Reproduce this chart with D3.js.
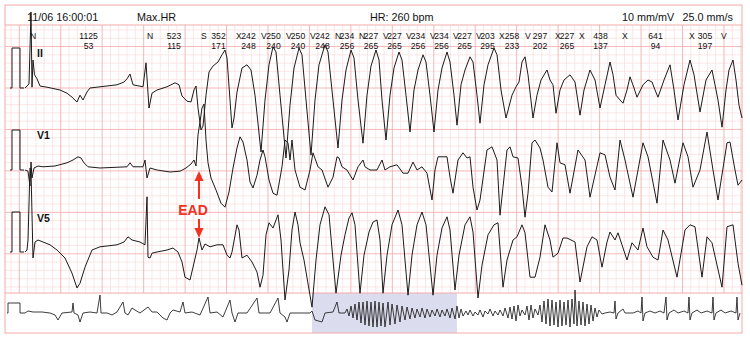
<!DOCTYPE html>
<html><head><meta charset="utf-8">
<script src="https://cdn.jsdelivr.net/npm/d3@7"></script>
<style>html,body{margin:0;padding:0;background:#fff;}svg{display:block;font-family:"Liberation Sans",Arial,Helvetica,sans-serif;}</style>
</head><body><svg id="c" width="750" height="339"></svg>
<script>
// ---------- DATA ----------
const headerLeft = "11/06 16:00:01";
const headerMode = "Max.HR";
const headerHR = "HR: 260 bpm";
const headerGain = "10 mm/mV";
const headerSpeed = "25.0 mm/s";
const leadNames = ["II", "V1", "V5"];
// beat times (s) and labels
const beatTimes = [0.05,1.22,1.76,2.11,2.36,2.61,2.85,3.10,3.34,3.58,3.81,4.05,4.28,4.51,4.74,5.00,5.30,5.54,5.97,6.64,6.96];
const beatTypes = ["N","N","S","X","V","V","V","N","N","V","V","V","V","V","X","V","X","X","X","X","V"];
const rrIntervals = ["1125","523","352","242","250","250","242","234","227","227","234","234","227","203","258","297","227","438","641","305"];
const heartRates = ["53","115","171","248","240","240","248","256","265","265","256","256","265","295","233","202","265","137","94","197"];
const eadTime = 1.74;
const calibration = [[-0.15,0],[-0.13,0],[-0.13,1],[-0.05,1],[-0.05,0],[-0.01,0]];
const stripCalibration = [[-0.9,0],[-0.85,0],[-0.85,1],[-0.25,1],[-0.25,0],[0,0]];
const highlightWindow = [14.35, 21.6];
// lead traces: [time s, amplitude mV]
const leadII = [[0,0],[0.02,0.05],[0.04,0.10],[0.06,1.90],[0.07,0.02],[0.08,0.70],[0.095,0.33],[0.12,0.23],[0.15,0.05],[0.22,0.02],[0.35,-0.05],[0.42,-0.13],[0.47,-0.23],[0.52,-0.35],[0.55,-0.18],[0.58,-0.30],[0.62,-0.10],[0.65,0],[0.75,0.03],[0.92,0.08],[0.99,0.15],[1.02,0.23],[1.05,0.35],[1.08,0.08],[1.18,0.03],[1.21,0.63],[1.24,-0.50],[1.27,-0.13],[1.32,-0.05],[1.42,0.03],[1.50,0.13],[1.54,0.08],[1.57,-0.20],[1.62,-0.33],[1.66,-0.35],[1.69,-0.05],[1.71,0.05],[1.73,-0.50],[1.76,-1.05],[1.78,-0.95],[1.81,-0.18],[1.84,0.40],[1.88,0.55],[1.93,0.65],[1.97,0.83],[2.00,0.95],[2.02,0.75],[2.07,-1.00],[2.09,-0.75],[2.12,-0.10],[2.17,0.50],[2.22,0.58],[2.26,0.45],[2.30,-0.18],
[2.36,-1.60],[2.40,-0.30],[2.44,0.58],[2.48,1.03],[2.51,0.90],[2.55,-0.18],[2.61,-1.75],[2.65,-0.43],[2.69,0.50],[2.74,1.00],[2.77,0.83],[2.81,-0.30],[2.86,-1.68],[2.90,-0.30],[2.94,0.58],[3.00,1.08],[3.03,0.90],[3.08,-0.30],[3.13,-1.50],[3.17,-0.30],[3.21,0.45],[3.26,0.95],[3.29,0.75],[3.33,-0.30],[3.38,-1.38],[3.42,-0.18],[3.46,0.55],[3.51,0.95],[3.54,0.70],[3.57,-0.30],[3.61,-1.30],[3.65,-0.18],[3.69,0.50],[3.74,0.90],[3.77,0.70],[3.81,-0.18],[3.85,-1.10],[3.89,-0.05],[3.93,0.45],[3.98,0.83],[4.01,0.65],[4.05,-0.18],[4.09,-1.10],[4.13,-0.05],[4.17,0.50],[4.22,0.90],[4.25,0.65],[4.29,-0.18],[4.32,-0.93],[4.36,0.08],[4.40,0.45],[4.45,0.78],[4.48,0.65],[4.52,-0.18],[4.55,-0.88],[4.59,0.08],[4.63,0.58],[4.69,1.00],[4.72,0.83],[4.76,-0.05],[4.81,-0.75],[4.87,-0.18],[4.91,0.03],[4.94,0.15],[4.97,0.65],[5.00,0.78],[5.03,0.33],[5.08,-0.75],[5.12,-0.18],[5.16,0.20],[5.22,0.45],[5.25,0.20],[5.28,0.08],[5.31,-0.63],[5.35,-0.05],[5.39,0.20],[5.45,0.33],[5.50,0.15],[5.55,-0.68],[5.59,-0.05],[5.65,0.45],[5.70,0.20],[5.75,-0.50],[5.80,0.08],[5.85,0.65],[5.88,0.33],[5.91,-0.18],[5.95,-0.30],[5.98,-0.38],[6.02,-0.05],[6.05,0.28],[6.09,0],[6.12,-0.23],[6.18,0.08],[6.23,0.20],[6.27,0.15],[6.30,-0.05],[6.33,-0.23],[6.39,0.20],[6.45,0.58],[6.49,-0.05],[6.53,-0.80],[6.59,0.08],[6.65,0.70],[6.69,0.33],[6.75,-0.60],[6.81,0.20],[6.87,0.45],[6.90,0.08],[6.93,-0.30],[6.97,-0.98],[7.01,-0.05],[7.04,0.45],[7.08,0.70],[7.11,0.20],[7.14,-0.43],[7.17,-0.75]];
const leadV1 = [[0,0],[0.03,-0.03],[0.05,-0.40],[0.06,0.20],[0.07,-0.20],[0.09,0.05],[0.13,0.10],[0.18,0.08],[0.30,0.10],[0.42,0.18],[0.48,0.25],[0.53,0.33],[0.56,0.30],[0.59,0.18],[0.63,0.08],[0.75,0.05],[1.02,0.08],[1.05,0.18],[1.08,0.08],[1.18,0.08],[1.20,0.25],[1.22,-0.20],[1.25,0.05],[1.32,0],[1.45,-0.05],[1.55,-0.03],[1.61,0.05],[1.66,0.15],[1.69,0.25],[1.71,0.10],[1.73,0.88],[1.75,1.20],[1.77,1.55],[1.79,1.65],[1.81,0.75],[1.83,0.18],[1.86,-0.20],[1.91,-0.50],[1.96,-0.83],[2.00,-0.93],[2.04,-0.55],[2.08,0.05],[2.12,0.55],[2.15,0.83],[2.18,0.70],[2.22,0.25],[2.25,-0.30],[2.28,-0.45],[2.32,-0.13],[2.35,0.25],[2.38,0.50],[2.40,0.33],[2.44,-0.25],[2.48,-0.58],[2.52,-0.63],[2.57,0.08],[2.60,0.75],[2.63,0.68],[2.65,0.25],[2.67,0.75],[2.70,0],[2.75,-0.43],[2.80,-0.50],[2.85,0],[2.88,0.43],[2.93,0.08],[2.97,0],[3.03,-0.43],[3.08,-0.18],[3.12,0.33],[3.14,0.30],[3.17,0.08],[3.22,0],[3.28,-0.25],[3.33,0.08],[3.38,0.25],[3.40,0.08],[3.45,0],[3.52,0],[3.57,0.25],[3.60,0],[3.65,0.08],[3.72,0.13],[3.78,-0.08],[3.83,-0.08],[3.88,0.20],[3.92,0],[3.97,0.08],[4.02,-0.08],[4.07,-0.75],[4.10,0],[4.13,0.33],[4.22,0.33],[4.25,-0.18],[4.28,-0.58],[4.33,0.25],[4.38,0.43],[4.42,0.30],[4.45,0.33],[4.48,-0.43],[4.52,-1.00],[4.55,-0.75],[4.62,0.50],[4.67,0.58],[4.72,0.25],[4.75,-1.13],[4.78,-0.43],[4.82,0.50],[4.85,0.58],[4.88,0.33],[4.93,0.30],[4.97,-0.43],[5.00,-1.18],[5.03,-0.58],[5.07,0.68],[5.10,0.75],[5.15,0.55],[5.18,0.25],[5.23,-0.43],[5.27,-0.55],[5.32,0.68],[5.35,0.18],[5.40,0.13],[5.45,-0.58],[5.53,0.50],[5.60,0.25],[5.65,-0.68],[5.75,0.43],[5.80,0.38],[5.85,-0.18],[5.90,-0.50],[5.95,0.75],[6.00,0.25],[6.08,-0.68],[6.18,0.68],[6.23,0.33],[6.32,-0.83],[6.38,0.75],[6.45,0.25],[6.50,-0.33],[6.58,0.68],[6.63,0.33],[6.68,-0.43],[6.75,0],[6.82,0.95],[6.88,0],[6.93,-0.75],[7.02,0.68],[7.05,0.70],[7.10,0],[7.13,-0.38],[7.17,-0.25]];
const leadV5 = [[0,0],[0.02,0.05],[0.03,0.30],[0.05,2.10],[0.06,2.05],[0.08,-0.15],[0.10,0.25],[0.13,0.30],[0.18,0.25],[0.25,0.18],[0.32,0.05],[0.40,-0.15],[0.47,-0.53],[0.52,-0.90],[0.55,-0.78],[0.60,-0.38],[0.67,0.05],[0.75,0.13],[0.92,0.18],[0.99,0.25],[1.03,0.38],[1.07,0.30],[1.15,0.25],[1.20,0.18],[1.22,1.38],[1.23,-0.13],[1.25,-0.15],[1.27,-0.03],[1.32,0],[1.42,0.05],[1.48,0.10],[1.53,0],[1.57,-0.25],[1.60,-0.63],[1.65,-0.70],[1.68,-0.38],[1.72,0.05],[1.74,0.35],[1.77,0.05],[1.80,0.20],[1.85,0.13],[1.92,0.18],[1.98,0.18],[2.02,-0.08],[2.05,-0.15],[2.07,0],[2.12,0.68],[2.14,0.55],[2.17,-0.15],[2.22,-0.08],[2.27,-0.25],[2.32,-0.50],[2.35,-0.88],[2.38,-0.58],[2.41,0.43],[2.44,0.73],[2.48,0.60],[2.53,0.93],[2.56,0.30],[2.60,-1.20],[2.64,-0.45],[2.67,0.55],[2.70,1.00],[2.73,0.68],[2.75,0.23],[2.79,-0.20],[2.87,-1.38],[2.91,-0.20],[2.95,0.68],[3.00,1.13],[3.04,0.93],[3.08,-0.20],[3.11,-1.03],[3.16,-0.08],[3.20,0.43],[3.24,0.85],[3.27,0.98],[3.30,0.68],[3.35,-1.03],[3.39,-0.08],[3.44,0.50],[3.48,0.75],[3.52,0.80],[3.55,0.30],[3.58,-1.03],[3.62,-0.08],[3.67,0.68],[3.73,1.05],[3.77,0.68],[3.83,-1.08],[3.87,-0.08],[3.92,0.68],[3.97,1.00],[4.01,0.68],[4.08,-1.08],[4.12,-0.08],[4.17,0.60],[4.22,0.88],[4.25,0.55],[4.30,-0.95],[4.34,-0.08],[4.40,0.68],[4.45,0.88],[4.48,0.50],[4.53,-1.15],[4.57,-0.33],[4.63,0.43],[4.69,0.68],[4.73,0.73],[4.78,-0.88],[4.82,-0.20],[4.88,0.30],[4.92,0.38],[4.97,0.68],[5.00,0.48],[5.05,-0.63],[5.10,-0.63],[5.15,-0.13],[5.20,0.68],[5.25,0.30],[5.28,-0.13],[5.33,-0.03],[5.38,0.35],[5.42,0.35],[5.50,0.25],[5.55,-0.75],[5.62,0.13],[5.67,0.38],[5.72,0.30],[5.77,-0.38],[5.82,0.25],[5.85,0.50],[5.90,0.30],[5.93,0.48],[6.02,-0.20],[6.07,0.23],[6.13,0.05],[6.18,0.60],[6.22,0.13],[6.28,-0.13],[6.33,-0.20],[6.38,0.55],[6.43,0.30],[6.52,-0.63],[6.60,0.55],[6.65,0.68],[6.70,0.63],[6.77,-0.63],[6.82,0.38],[6.87,0.23],[6.97,-0.88],[7.02,0.63],[7.08,0.68],[7.13,-0.28],[7.17,-0.83]];
// rhythm overview strip: [time s, amplitude mV]
const stripTrace = [[0,0],[0.15,0.2],[0.4,0.1],[0.85,0.1],[1.25,0],[1.5,-0.2],[1.65,-0.7],[1.85,0],[2.35,0.1],[2.4,1.0],[2.45,0],[2.65,-0.2],[2.75,-0.9],[2.9,0],[3.25,0.1],[3.6,0],[3.75,1.8],[3.8,0],[4.1,0],[4.35,-0.2],[4.6,0.1],[4.9,1.1],[5.0,0],[5.15,-0.2],[5.35,0.5],[5.5,0.3],[5.75,0],[6.15,0.6],[6.35,0.1],[6.6,0.1],[6.9,-0.5],[7.1,-0.7],[7.25,0],[7.4,0.3],[7.75,0.1],[7.9,1.1],[8.0,0],[8.35,0.1],[8.75,-0.2],[9.15,1.6],[9.25,0],[9.6,0.1],[9.9,-0.4],[10.25,1.3],[10.35,0],[10.5,-0.9],[10.65,0],[11.1,0],[11.6,1.5],[11.7,0],[11.9,0],[12.25,0],[12.65,1.5],[12.75,0],[13.0,-0.4],[13.1,-0.9],[13.25,0],[13.75,0],[14.25,0],[14.35,0.2],[14.5,-0.7],[14.85,-0.9],[15.0,0],[15.4,0.1],[15.6,1.1],[15.7,0],[15.95,0],
[16.0,0],[16.1,0.4],[16.2,-0.3],[16.3,0.7],[16.4,-0.5],[16.5,0.9],[16.6,-0.7],[16.7,1.1],[16.8,-1.0],[16.9,1.1],[17.0,-1.2],[17.1,1.2],[17.2,-1.3],[17.3,1.1],[17.4,-1.4],[17.5,1.2],[17.6,-1.4],[17.7,1.1],[17.8,-1.3],[17.9,1.0],[18.0,-1.4],[18.15,1.1],[18.25,-1.2],[18.35,0.9],[18.5,-1.1],[18.6,0.8],[18.75,-0.9],[18.85,0.7],[19.0,-0.7],[19.1,0.6],
[19.25,-0.6],[19.35,0.5],[19.5,-0.5],[19.6,0.4],[19.75,-0.4],[19.85,0.5],[20.0,-0.5],[20.1,0.4],[20.25,-0.4],[20.35,0.3],[20.5,-0.3],[20.6,0.4],[20.75,-0.4],[20.85,0.3],[21.0,-0.3],[21.1,0.4],[21.25,-0.5],[21.35,0.5],[21.5,-0.6],[21.6,0.7],
[21.7,-0.5],[21.8,0.4],[21.9,-0.3],[22.05,0.2],[22.15,-0.2],[22.25,0.3],[22.4,-0.3],[22.5,0.1],[22.65,-0.2],[22.75,0.3],[22.9,-0.4],[23.0,0.2],[23.15,-0.1],[23.25,0.4],[23.4,-0.3],[23.5,0.2],[23.65,-0.2],[23.75,0.3],[23.9,-0.3],[24.0,0.5],[24.15,-0.5],[24.25,0.6],[24.35,-0.6],[24.45,0.7],[24.55,-0.8],[24.65,0.8],[24.75,-0.3],[24.85,0.3],[25.0,-0.2],[25.1,0.7],[25.2,-0.7],[25.3,0.8],[25.4,-0.5],[25.5,0.4],[25.65,-0.2],[25.75,0.8],
[25.85,-0.9],[25.95,1.2],[26.05,-1.1],[26.15,1.4],[26.25,-1.3],[26.35,1.3],[26.45,-1.2],[26.55,1.1],[26.65,-1.4],[26.75,1.3],[26.85,-1.3],[26.95,1.1],[27.05,-1.2],[27.15,1.3],[27.25,-1.4],[27.35,1.4],[27.45,-1.1],[27.5,2.3],[27.6,-1.3],[27.7,1.2],[27.8,-1.2],[27.9,1.1],[28.0,-1.3],[28.1,0.9],[28.2,-1.1],[28.3,0.8],[28.4,-0.8],[28.5,0.5],[28.6,-0.4],[28.7,0.3],[28.85,-0.1],[29.0,0],
[29.25,0.1],[29.45,0],[29.5,1.2],[29.55,-0.6],[29.65,0],[29.9,0.4],[30.0,0],[30.4,0],[30.65,0.2],[30.8,0],[30.85,1.6],[30.9,-0.8],[31.0,0],[31.25,0.2],[31.5,0],[31.75,0.2],[31.95,0],[32.05,1.6],[32.1,-0.7],[32.2,0],[32.45,0.3],[32.65,0],[32.95,0.2],[33.15,0],[33.2,1.6],[33.25,-0.7],[33.35,0],[33.6,0.3],[33.8,0],[34.1,0.2],[34.35,0],[34.4,1.6],[34.45,-0.7],[34.55,0],[34.8,0.3],[35.0,0],[35.3,0.2],[35.55,0],[35.6,1.6],[35.65,-0.7],[35.75,0]];

// ---------- LAYOUT ----------
const W = 750, H = 339;
const frame = {x0: 5, x1: 742, y0: 5, y1: 333, head: 25, strip: 293};
const svg = d3.select("#c");
svg.append("rect").attr("width", W).attr("height", H).attr("fill", "#fff");

// grid
const minorStep = 8.29, xPhase = 19.3, yPhase = 88;
const grid = svg.append("g");
const kx0 = Math.ceil((frame.x0 - xPhase) / minorStep), kx1 = Math.floor((frame.x1 - xPhase) / minorStep);
const ky0 = Math.ceil((frame.head - yPhase) / minorStep), ky1 = Math.floor((frame.strip - yPhase) / minorStep);
const minorLines = [], majorLines = [];
for (let k = kx0; k <= kx1; k++) {
  const xx = xPhase + k * minorStep;
  (((k % 5) + 5) % 5 === 0 ? majorLines : minorLines).push({x1: xx, x2: xx, y1: frame.head, y2: frame.strip});
}
for (let k = ky0; k <= ky1; k++) {
  const yy = yPhase + k * minorStep;
  (((k % 5) + 5) % 5 === 0 ? majorLines : minorLines).push({x1: frame.x0, x2: frame.x1, y1: yy, y2: yy});
}
grid.selectAll(".mn").data(minorLines).join("line").attr("class","mn")
  .attr("x1", d => d.x1).attr("x2", d => d.x2).attr("y1", d => d.y1).attr("y2", d => d.y2)
  .attr("stroke", "#fbdcdc").attr("stroke-width", 0.7);
grid.selectAll(".mj").data(majorLines).join("line").attr("class","mj")
  .attr("x1", d => d.x1).attr("x2", d => d.x2).attr("y1", d => d.y1).attr("y2", d => d.y2)
  .attr("stroke", "#f5b0b0").attr("stroke-width", 0.9);

// strip background & highlight
const xs = d3.scaleLinear().domain([0, 35.85]).range([25, 742]);
const ys = d3.scaleLinear().domain([-1, 1]).range([323, 303]);
svg.append("rect").attr("x", frame.x0).attr("y", frame.strip).attr("width", frame.x1 - frame.x0).attr("height", frame.y1 - frame.strip).attr("fill", "#fff");
svg.append("rect").attr("x", xs(highlightWindow[0])).attr("y", frame.strip)
  .attr("width", xs(highlightWindow[1]) - xs(highlightWindow[0])).attr("height", frame.y1 - frame.strip)
  .attr("fill", "#dcdcef");

// frame
const fr = svg.append("g").attr("stroke", "#f3aaaa").attr("stroke-width", 1).attr("fill", "none");
fr.append("rect").attr("x", frame.x0).attr("y", frame.y0).attr("width", frame.x1 - frame.x0).attr("height", frame.y1 - frame.y0);
fr.append("line").attr("x1", frame.x0).attr("x2", frame.x1).attr("y1", frame.head).attr("y2", frame.head);
fr.append("line").attr("x1", frame.x0).attr("x2", frame.x1).attr("y1", frame.strip).attr("y2", frame.strip);

// header text
const hdr = svg.append("g").attr("fill", "#111").attr("font-size", 10.8);
hdr.append("text").attr("x", 27).attr("y", 20.5).text(headerLeft);
hdr.append("text").attr("x", 137).attr("y", 20.5).text(headerMode);
hdr.append("text").attr("x", 370).attr("y", 20.5).text(headerHR);
hdr.append("text").attr("x", 622).attr("y", 20.5).text(headerGain);
hdr.append("text").attr("x", 733).attr("y", 20.5).attr("text-anchor", "end").text(headerSpeed);

// main scales
const x = d3.scaleLinear().domain([0, 7.17]).range([25, 742]);
const baselines = [88, 170, 252];
const yScales = baselines.map(b => d3.scaleLinear().domain([-1, 1]).range([b + 40, b - 40]));
const leads = [leadII, leadV1, leadV5];

// beat annotations
const ann = svg.append("g").attr("fill", "#111").attr("font-size", 8.6);
ann.selectAll(".bt").data(beatTimes).join("text").attr("class","bt")
  .attr("x", d => x(d)).attr("y", 39).text((d, i) => beatTypes[i]);
const mids = rrIntervals.map((r, i) => (beatTimes[i] + beatTimes[i + 1]) / 2);
ann.selectAll(".rr").data(mids).join("text").attr("class","rr")
  .attr("x", d => x(d)).attr("y", 39).attr("text-anchor", "middle").text((d, i) => rrIntervals[i]);
ann.selectAll(".hr").data(mids).join("text").attr("class","hr")
  .attr("x", d => x(d)).attr("y", 48.5).attr("text-anchor", "middle").text((d, i) => heartRates[i]);

// lead labels
const lbl = svg.append("g").attr("fill", "#111").attr("font-size", 10.5).attr("font-weight", "bold");
const labelY = [57, 139, 222];
lbl.selectAll("text").data(leadNames).join("text").attr("x", 37).attr("y", (d, i) => labelY[i]).text(d => d);

// traces
const tr = svg.append("g").attr("fill", "none").attr("stroke", "#1b1b1b").attr("stroke-width", 1.0).attr("stroke-linejoin", "round");
leads.forEach((data, i) => {
  const y = yScales[i];
  const line = d3.line().x(d => x(d[0])).y(d => y(d[1]));
  tr.append("path").attr("d", line(calibration));
  tr.append("path").attr("d", line(data));
});
const sline = d3.line().x(d => xs(d[0])).y(d => ys(d[1]));
tr.append("path").attr("d", sline(stripCalibration)).attr("stroke-width", 0.85);
tr.append("path").attr("d", sline(stripTrace)).attr("stroke-width", 0.85);

// EAD annotation
const red = "#f2321f";
const ex = x(eadTime);
const ea = svg.append("g");
ea.append("text").attr("x", ex - 6).attr("y", 215).attr("text-anchor", "middle")
  .attr("font-size", 14).attr("font-weight", "bold").attr("fill", red).text("EAD");
ea.append("line").attr("x1", ex).attr("x2", ex).attr("y1", 180).attr("y2", 199).attr("stroke", red).attr("stroke-width", 2);
ea.append("path").attr("d", `M${ex},${yScales[1](0) + 1}L${ex - 4.5},${yScales[1](0) + 11}L${ex + 4.5},${yScales[1](0) + 11}Z`).attr("fill", red);
ea.append("line").attr("x1", ex).attr("x2", ex).attr("y1", 219).attr("y2", 231).attr("stroke", red).attr("stroke-width", 2);
ea.append("path").attr("d", `M${ex},${yScales[2](0.35)}L${ex - 4.5},${yScales[2](0.35) - 10}L${ex + 4.5},${yScales[2](0.35) - 10}Z`).attr("fill", red);
</script></body></html>
